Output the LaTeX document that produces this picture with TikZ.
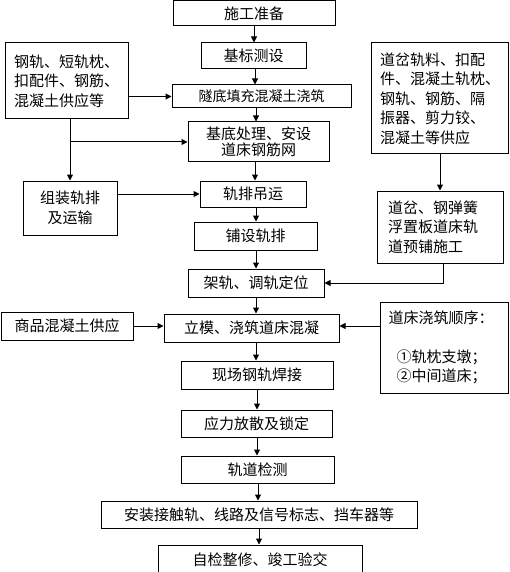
\documentclass[tikz,border=0pt]{standalone}
\usepackage{fontspec}
\newfontfamily\cjk{Noto Sans CJK SC}
\usetikzlibrary{arrows.meta}
\tikzset{
 box/.style={draw, line width=1pt, inner sep=0pt, align=center, font=\cjk\fontsize{15}{19.5}\selectfont},
 arr/.style={line width=1pt, -{Triangle[length=6pt,width=6pt]}},
}
\begin{document}
\begin{tikzpicture}[x=1pt,y=-1pt]
\useasboundingbox (0,0) rectangle (509,572);
\clip (0,0) rectangle (509,572);
% main column
\node[box, minimum width=162pt, minimum height=25pt] (n1) at (254,13.5) {施工准备};
\node[box, minimum width=105pt, minimum height=26pt] (n2) at (253.5,56) {基标测设};
\node[box, minimum width=179pt, minimum height=23pt, font=\cjk\fontsize{14}{17}\selectfont] (n3) at (261.5,96.5) {隧底填充混凝土浇筑};
\node[box, minimum width=141pt, minimum height=40pt, font=\cjk\fontsize{15}{15.5}\selectfont] (n4) at (258.5,142) {基底处理、安设\\道床钢筋网};
\node[box, minimum width=106pt, minimum height=26pt] (n5) at (253,194) {轨排吊运};
\node[box, minimum width=123pt, minimum height=28pt] (n6) at (255.5,236) {铺设轨排};
\node[box, minimum width=136pt, minimum height=28pt] (n7) at (256,283) {架轨、调轨定位};
\node[box, minimum width=175pt, minimum height=28pt] (n8) at (251.5,328) {立模、浇筑道床混凝};
\node[box, minimum width=152pt, minimum height=28pt] (n9) at (257,375) {现场钢轨焊接};
\node[box, minimum width=151pt, minimum height=27pt] (n10) at (256.5,423.5) {应力放散及锁定};
\node[box, minimum width=153pt, minimum height=27pt] (n11) at (257.5,469.5) {轨道检测};
\node[box, minimum width=316pt, minimum height=27pt] (n12) at (259,514.5) {安装接触轨、线路及信号标志、挡车器等};
\node[box, minimum width=204pt, minimum height=30pt] (n13) at (260,560) {自检整修、竣工验交};
% side boxes
\node[box, align=left, minimum width=123pt, minimum height=76pt] (L1) at (66.5,81) {钢轨、短轨枕、\\扣配件、钢筋、\\混凝土供应等};
\node[box, minimum width=94pt, minimum height=54pt] (L2) at (70,208) {组装轨排\\及运输};
\node[box, minimum width=132pt, minimum height=28pt] (L3) at (67,326) {商品混凝土供应};
\node[box, align=left, minimum width=137pt, minimum height=111pt] (R1) at (440,98.5) {道岔轨料、扣配\\件、混凝土轨枕、\\钢轨、钢筋、隔\\振器、剪力铰、\\混凝土等供应};
\node[box, align=left, text width=104pt, minimum width=126pt, minimum height=72pt] (R2) at (440,227) {道岔、钢弹簧\\浮置板道床轨\\道预铺施工};
\node[box, align=left, text width=111pt, minimum width=128pt, minimum height=91pt] (R3) at (444,347.5) {道床浇筑顺序：\\ \mbox{}\\ \hspace*{8pt}①轨枕支墩；\\ \hspace*{8pt}②中间道床；};
% main arrows
\draw[arr] (n1.south -| 254,0) -- (n2.north -| 254,0);
\draw[arr] (n2.south -| 255,0) -- (n3.north -| 255,0);
\draw[arr] (n3.south -| 256,0) -- (n4.north -| 256,0);
\draw[arr] (n4.south -| 255,0) -- (n5.north -| 255,0);
\draw[arr] (n5.south -| 256,0) -- (n6.north -| 256,0);
\draw[arr] (n6.south -| 256,0) -- (n7.north -| 256,0);
\draw[arr] (n7.south -| 256,0) -- (n8.north -| 256,0);
\draw[arr] (n8.south -| 256,0) -- (n9.north -| 256,0);
\draw[arr] (n9.south -| 257,0) -- (n10.north -| 257,0);
\draw[arr] (n10.south -| 257,0) -- (n11.north -| 257,0);
\draw[arr] (n11.south -| 258,0) -- (n12.north -| 258,0);
\draw[arr] (n12.south -| 259,0) -- (n13.north -| 259,0);
% side arrows
\draw[arr] (L1.east |- n3.west) -- (n3.west);
\draw[arr] (L1.south -| L2.north) -- (L2.north);
\coordinate (j1) at (L2.north |- n4.west);
\draw[arr] (j1) -- (n4.west);
\draw[arr] (L2.east |- n5.west) -- (n5.west);
\draw[arr] (R1.south) -- (R2.north);
\draw[arr] (R2.south -| 443,0) |- (n7.east);
\draw[arr] (L3.east) -- (n8.west |- L3.east);
\draw[arr] (R3.west |- L3.east) -- (n8.east |- L3.east);
\end{tikzpicture}
\end{document}
